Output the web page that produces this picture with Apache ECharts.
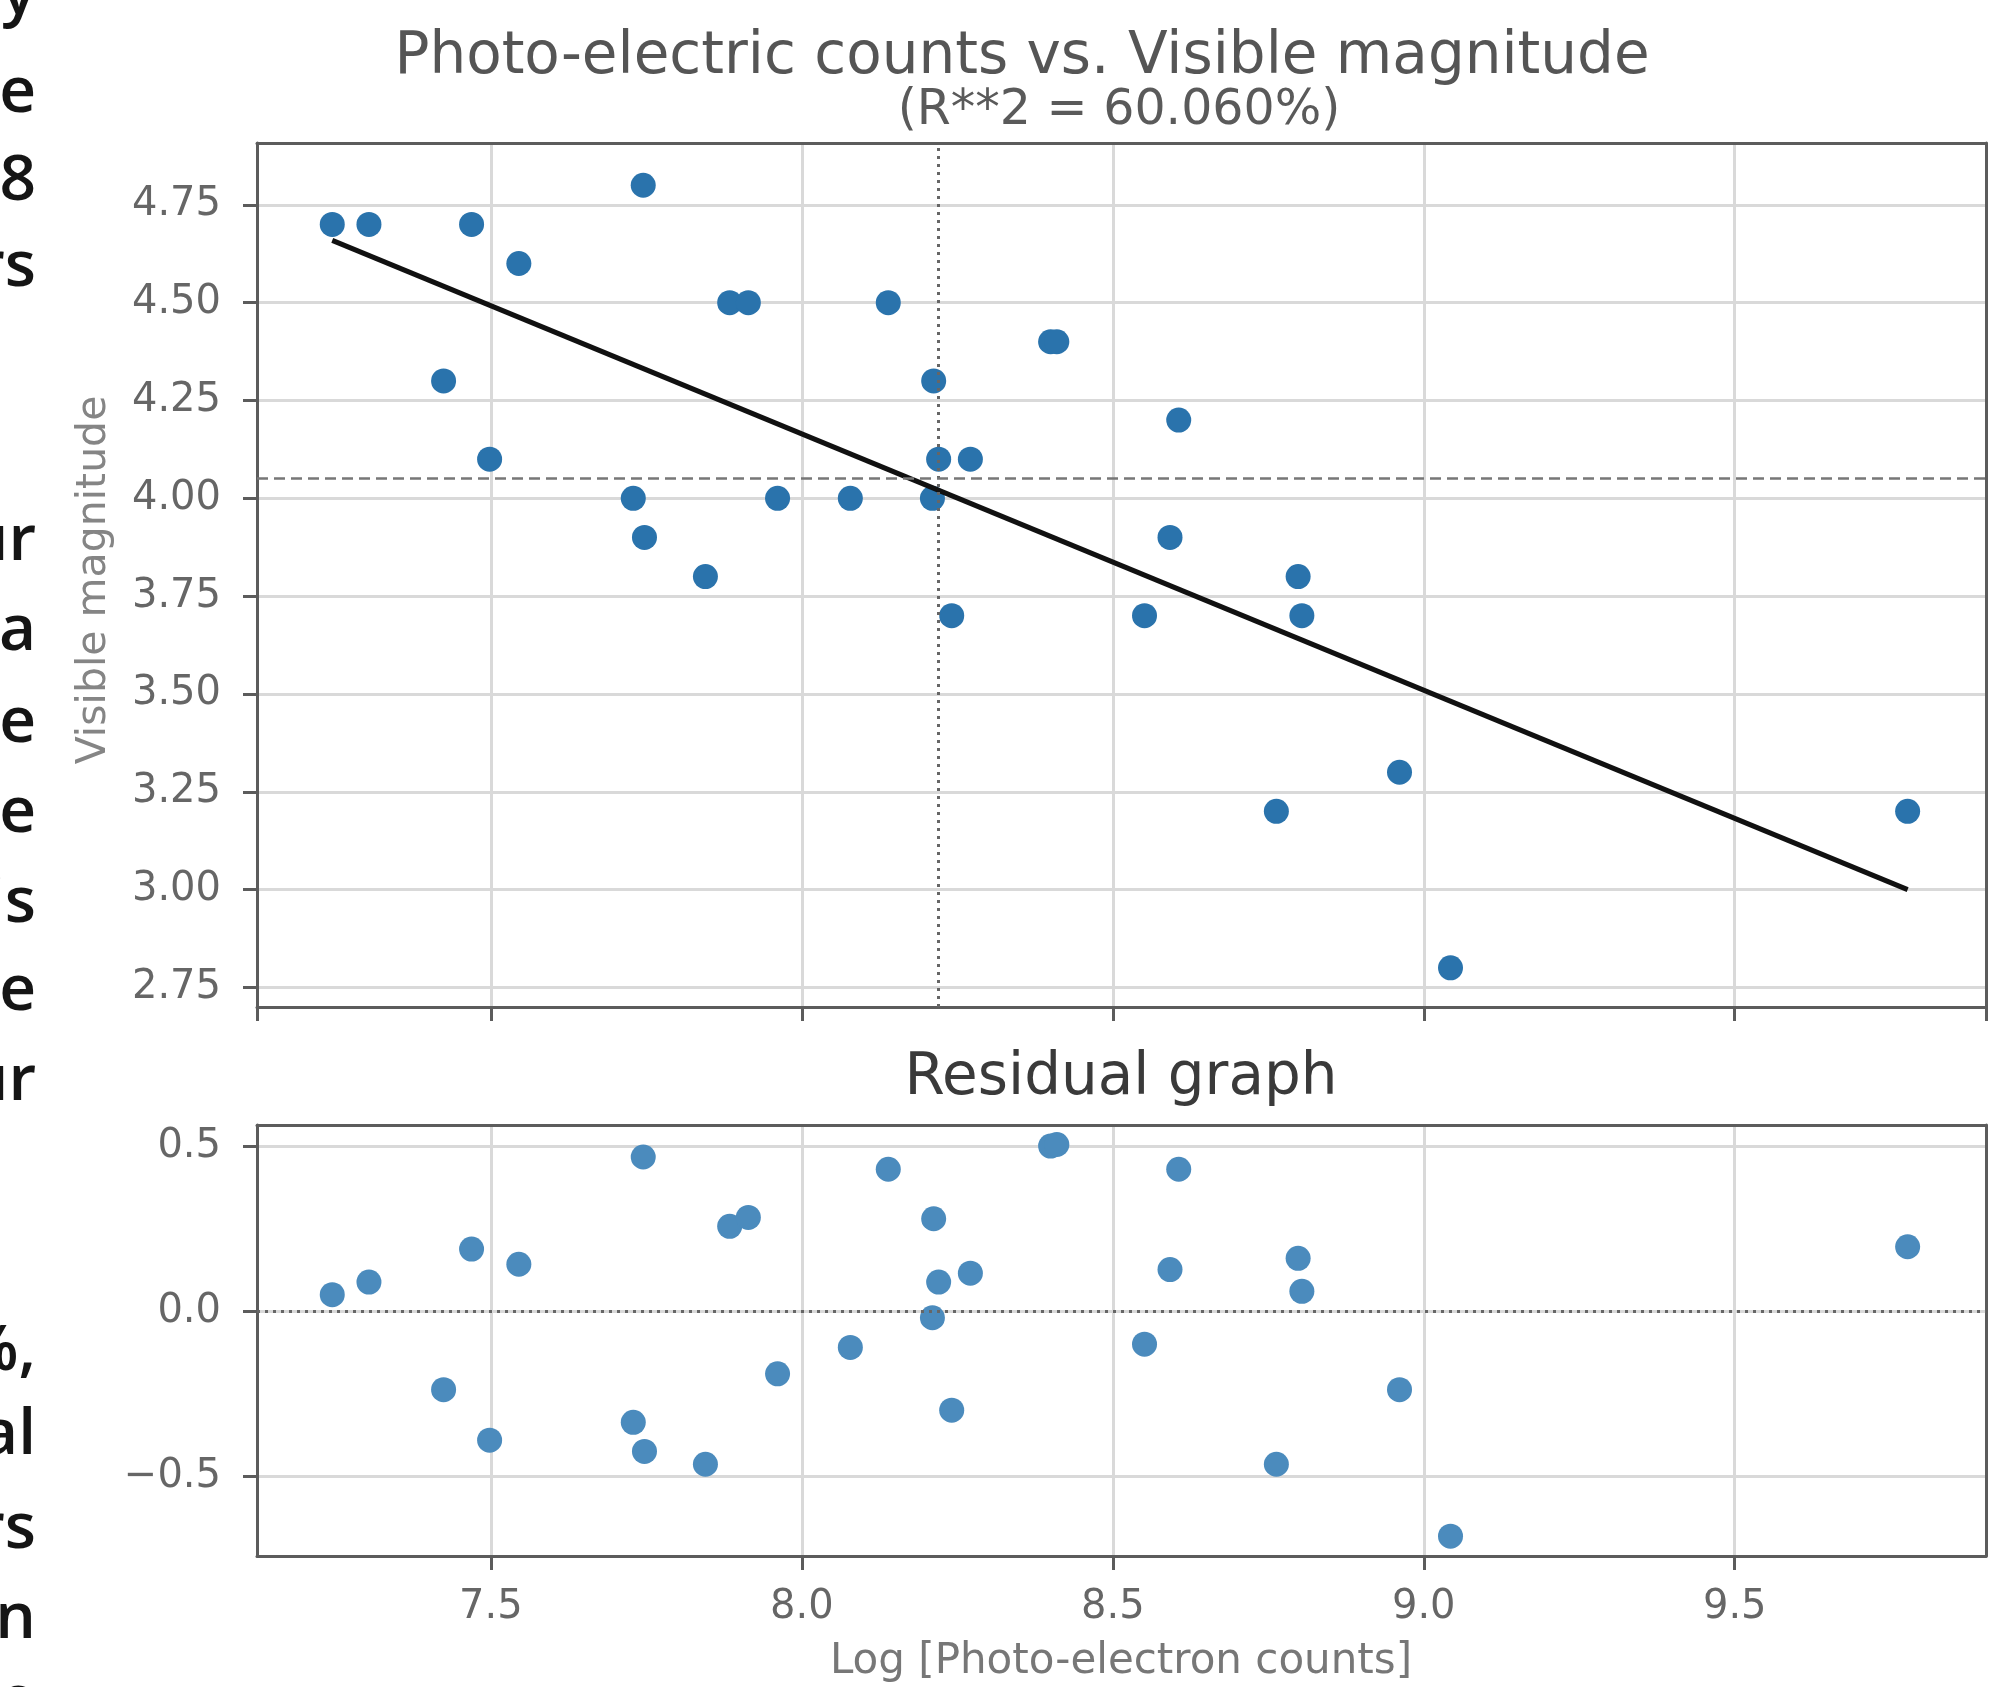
<!DOCTYPE html>
<html>
<head>
<meta charset="utf-8">
<title>Photo-electric counts vs. Visible magnitude</title>
<script src="https://cdn.jsdelivr.net/npm/echarts@6/dist/echarts.min.js"></script>
<style>
  html, body { margin: 0; padding: 0; background: #fff; overflow: hidden; }
  #main { width: 1990px; height: 1687px; }
</style>
</head>
<body>
<div id="main"></div>
<script>
// log of photo-electron counts and visible magnitude of each star
var logCounts = [7.245, 7.304, 7.469, 7.545, 7.424, 7.498, 7.745, 7.729, 7.747, 7.845,
                 7.884, 7.914, 7.961, 8.078, 8.139, 8.212, 8.220, 8.271, 8.210, 8.241,
                 8.400, 8.410, 8.606, 8.592, 8.551, 8.798, 8.804, 8.763, 8.961, 9.043, 9.778];
var visMag = [4.70, 4.70, 4.70, 4.60, 4.30, 4.10, 4.80, 4.00, 3.90, 3.80,
              4.50, 4.50, 4.00, 4.00, 4.50, 4.30, 4.10, 4.10, 4.00, 3.70,
              4.40, 4.40, 4.20, 3.90, 3.70, 3.80, 3.70, 3.20, 3.30, 2.80, 3.20];
// residuals as drawn in the lower panel
var residuals = [0.050, 0.088, 0.188, 0.142, -0.238, -0.391, 0.467, -0.337, -0.425, -0.464,
                 0.257, 0.284, -0.190, -0.110, 0.430, 0.280, 0.088, 0.115, -0.020, -0.300,
                 0.500, 0.505, 0.430, 0.126, -0.100, 0.160, 0.060, -0.464, -0.238, -0.682, 0.195];
// fitted line end points
var fitX = [7.245, 9.778];
var fitY = [4.659, 3.000];
var meanLogCount = 8.216;
var meanVisMag = 4.046;
var rSquared = '60.060%';

// bits of the page text that sit at the left edge of the screenshot
var sideText = ['y', 'e', '8', 'rs', 'ur', 'a', 'e', 'e', 'is', 'e', 'ur', '%,', 'al', 'rs', 'n', 'e'];
var sideTextY = [-4, 94, 182, 268, 542, 632, 724, 814, 904, 992, 1082, 1352, 1436, 1530, 1620, 1702];

var chart = echarts.init(document.getElementById('main'));

var font = 'DejaVu Sans';
var frameColor = '#5c5c5c';
var gridColor = '#d9d9d9';
var xMin = 7.124, xMax = 9.904;

function pairs(xs, ys) {
    return xs.map(function (x, i) { return [x, ys[i]]; });
}

function mainXAxis(gridIndex, showLabels) {
    return {
        type: 'value', gridIndex: gridIndex, min: xMin, max: xMax,
        splitNumber: 5, minInterval: 0.5, maxInterval: 0.5,
        axisLine: {show: true, onZero: false, lineStyle: {color: frameColor, width: 3}},
        axisTick: {show: true, inside: false, length: 14, lineStyle: {color: frameColor, width: 3}},
        axisLabel: {
            show: showLabels, margin: 32, color: '#666666', fontSize: 40, fontFamily: font,
            showMinLabel: false, showMaxLabel: false,
            formatter: function (v) { return v.toFixed(1); }
        },
        splitLine: {show: true, lineStyle: {color: gridColor, width: 3}}
    };
}

function mainYAxis(gridIndex, min, max, step, digits) {
    return {
        type: 'value', gridIndex: gridIndex, min: min, max: max,
        splitNumber: 5, minInterval: step, maxInterval: step,
        axisLine: {show: true, onZero: false, lineStyle: {color: frameColor, width: 3}},
        axisTick: {show: true, inside: false, length: 14, lineStyle: {color: frameColor, width: 3}},
        axisLabel: {
            margin: 36, color: '#666666', fontSize: 40, fontFamily: font,
            showMinLabel: false, showMaxLabel: false,
            formatter: function (v) { return v.toFixed(digits).replace('-', '\u2212'); }
        },
        splitLine: {show: true, lineStyle: {color: gridColor, width: 3}}
    };
}

// plain axes that only close the frame on the top and right
function frameAxis(gridIndex, pos, min, max) {
    return {
        type: 'value', gridIndex: gridIndex, position: pos, min: min, max: max,
        axisLine: {show: true, onZero: false, lineStyle: {color: frameColor, width: 3}},
        axisTick: {show: false}, axisLabel: {show: false}, splitLine: {show: false}
    };
}

var option = {
    animation: false,
    backgroundColor: '#ffffff',
    grid: [
        {left: 257, width: 1729, top: 143, height: 864},
        {left: 257, width: 1729, top: 1125, height: 431}
    ],
    xAxis: [
        mainXAxis(0, false),
        mainXAxis(1, true),
        frameAxis(0, 'top', xMin, xMax),
        frameAxis(1, 'top', xMin, xMax)
    ],
    yAxis: [
        mainYAxis(0, 2.70, 4.908, 0.25, 2),
        mainYAxis(1, -0.742, 0.564, 0.5, 1),
        frameAxis(0, 'right', 2.70, 4.908),
        frameAxis(1, 'right', -0.742, 0.564)
    ],
    series: [
        {
            type: 'scatter', xAxisIndex: 0, yAxisIndex: 0, z: 3,
            data: pairs(logCounts, visMag),
            symbolSize: 25,
            itemStyle: {color: '#2a73ac', opacity: 1},
            markLine: {
                silent: true, symbol: 'none', label: {show: false},
                data: [
                    {xAxis: meanLogCount, lineStyle: {color: '#666666', type: [3, 5], width: 3}},
                    {yAxis: meanVisMag, lineStyle: {color: '#777777', type: [11, 6], width: 2.5}}
                ]
            }
        },
        {
            type: 'line', xAxisIndex: 0, yAxisIndex: 0, z: 4,
            data: pairs(fitX, fitY),
            showSymbol: false, symbol: 'none',
            lineStyle: {color: '#111111', width: 5}
        },
        {
            type: 'scatter', xAxisIndex: 1, yAxisIndex: 1, z: 3,
            data: pairs(logCounts, residuals),
            symbolSize: 25,
            itemStyle: {color: '#4b8bbd', opacity: 1},
            markLine: {
                silent: true, symbol: 'none', label: {show: false},
                data: [
                    {yAxis: 0, lineStyle: {color: '#666666', type: [3, 5], width: 3}}
                ]
            }
        }
    ],
    graphic: [
        {type: 'text', x: 1022, y: 58, z: 10, style: {
            text: 'Photo-electric counts vs. Visible magnitude', fontSize: 58, fontFamily: font,
            fill: '#555555', align: 'center', verticalAlign: 'middle', textAlign: 'center', textVerticalAlign: 'middle'}},
        {type: 'text', x: 1119, y: 111, z: 10, style: {
            text: '(R**2 = ' + rSquared + ')', fontSize: 49, fontFamily: font,
            fill: '#5a5a5a', align: 'center', verticalAlign: 'middle', textAlign: 'center', textVerticalAlign: 'middle'}},
        {type: 'text', x: 1121, y: 1079, z: 10, style: {
            text: 'Residual graph', fontSize: 58, fontFamily: font,
            fill: '#3a3a3a', align: 'center', verticalAlign: 'middle', textAlign: 'center', textVerticalAlign: 'middle'}},
        {type: 'text', x: 1121, y: 1662, z: 10, style: {
            text: 'Log [Photo-electron counts]', fontSize: 42, fontFamily: font,
            fill: '#777777', align: 'center', verticalAlign: 'middle', textAlign: 'center', textVerticalAlign: 'middle'}},
        {type: 'text', x: 94, y: 580, z: 10, rotation: Math.PI / 2, style: {
            text: 'Visible magnitude', fontSize: 41, fontFamily: font,
            fill: '#858585', align: 'center', verticalAlign: 'middle', textAlign: 'center', textVerticalAlign: 'middle'}}
    ].concat(sideText.map(function (t, i) {
        return {type: 'text', x: 36, y: sideTextY[i], z: 10, style: {
            text: t, fontSize: 64, fontWeight: 600, fontFamily: 'Open Sans',
            fill: '#151515', align: 'right', verticalAlign: 'middle', textAlign: 'right', textVerticalAlign: 'middle'}};
    }))
};

chart.setOption(option);
</script>
</body>
</html>
